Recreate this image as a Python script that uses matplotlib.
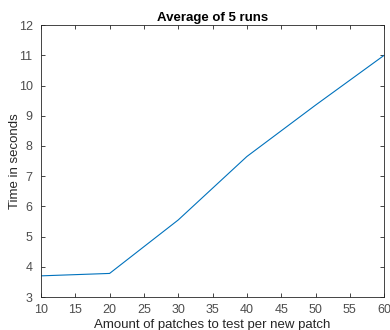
import matplotlib
matplotlib.use('Agg')
import matplotlib.pyplot as plt

patches = [10, 20, 30, 40, 50, 60]
times = [3.70, 3.78, 5.55, 7.65, 9.35, 11.0]

plt.rcParams['font.family'] = ['Liberation Sans', 'DejaVu Sans']

fig = plt.figure(figsize=(3.9, 3.3), dpi=100)
ax = fig.add_axes([0.105, 0.10, 0.88, 0.824])
ax.plot(patches, times, color='#0072BD', linewidth=0.8)

ax.set_xlim(10, 60)
ax.set_ylim(3, 12)
ax.set_xticks(range(10, 61, 5))
ax.set_yticks(range(3, 13))
ax.tick_params(direction='in', top=True, right=True, length=3, width=0.6,
               labelsize=9, colors='#262626', labelcolor='#4d4d4d')
ax.tick_params(axis='x', pad=5)
ax.tick_params(axis='y', pad=6)
for s in ax.spines.values():
    s.set_linewidth(0.6)
    s.set_color('#262626')

ax.set_title('Average of 5 runs', fontsize=9.5, fontweight='bold', pad=3)
ax.set_xlabel('Amount of patches to test per new patch', fontsize=9.5, color='#262626')
ax.set_ylabel('Time in seconds', fontsize=9.5, color='#262626')
ax.yaxis.set_label_coords(-0.058, 0.5)
ax.xaxis.set_label_coords(0.5, -0.08)

fig.savefig('out.png', dpi=100)
